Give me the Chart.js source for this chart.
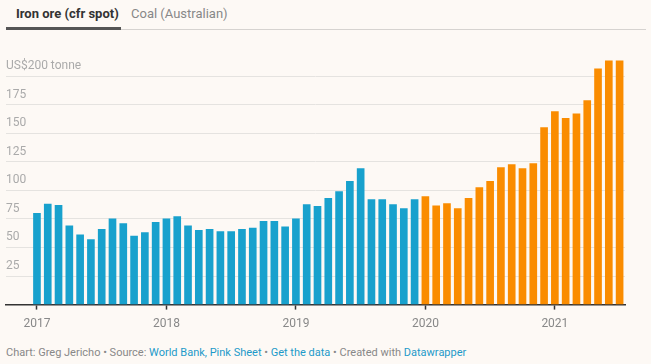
<!DOCTYPE html>
<html>
<head>
<meta charset="utf-8">
<script src="https://cdn.jsdelivr.net/npm/chart.js@4"></script>
<style>
  body { margin: 0; background: #fdf9f5; font-family: Roboto, sans-serif; width: 651px; height: 364px; overflow: hidden; position: relative; }
  .tabs { position: absolute; left: 0; top: 0; width: 651px; height: 31px; }
  .tab1 { position: absolute; left: 16px; top: 6px; font-size: 13px; font-weight: 700; color: #333; }
  .tab2 { position: absolute; left: 131px; top: 6px; font-size: 13px; color: #888; }
  .line { position: absolute; left: 6px; top: 29px; width: 640px; height: 1px; background: #d6d3d0; }
  .active { position: absolute; left: 6px; top: 27px; width: 115px; height: 3px; background: #555; }
  #wrap { position: absolute; left: 0; top: 40px; width: 651px; height: 298px; }
  .foot { position: absolute; left: 6px; top: 346px; font-size: 11px; color: #888; white-space: nowrap; }
  .foot a { color: #1d9ac9; text-decoration: none; }
</style>
</head>
<body>
<div class="tabs">
  <div class="tab1">Iron ore (cfr spot)</div>
  <div class="tab2">Coal (Australian)</div>
  <div class="line"></div>
  <div class="active"></div>
</div>
<div id="wrap"><canvas id="myChart"></canvas></div>
<div class="foot">Chart: Greg Jericho • Source: <a>World Bank, Pink Sheet</a> • <a>Get the data</a> • Created with <a>Datawrapper</a></div>
<script>
// monthly prices, Jan 2017 - Dec 2019 (blue) and Jan 2020 - Jul 2021 (orange)
var prices2017to2019 = [
  80, 88, 87, 69, 61, 57, 66, 75, 71, 60, 63, 72,
  75, 77, 69, 65, 66, 64, 64, 66, 67, 73, 73, 68,
  75, 87.5, 86, 93, 99, 108, 119, 92, 92, 87.5, 84, 92
];
var prices2020to2021 = [
  94.5, 86.5, 88.5, 84, 93, 102.5, 108, 120, 122.5, 119, 123.5, 155,
  169, 163, 167, 178.5, 206.5, 213.5, 213.5
];
var yearLabels = ["2017", "2018", "2019", "2020", "2021"];
var yTicks = [0, 25, 50, 75, 100, 125, 150, 175, 200];

var blueData = prices2017to2019.map((v, i) => ({ x: i, y: v }));
var orangeData = prices2020to2021.map((v, i) => ({ x: i + prices2017to2019.length, y: v }));

new Chart("myChart", {
  type: "bar",
  data: {
    datasets: [
      { data: blueData, backgroundColor: "#18a1cd", barThickness: 7, grouped: false },
      { data: orangeData, backgroundColor: "#fa8c00", barThickness: 7, grouped: false },
    ],
  },
  options: {
    responsive: true,
    maintainAspectRatio: false,
    animation: false,
    layout: { padding: { left: 6, right: 26, top: 19, bottom: 0 } },
    plugins: { legend: { display: false }, tooltip: { enabled: false } },
    scales: {
      x: {
        type: "linear",
        offset: false,
        min: -2.87,
        max: 54.5,
        afterBuildTicks: (axis) => {
          axis.ticks = yearLabels.map((y, i) => ({ value: i * 12 }));
        },
        ticks: {
          color: "#888",
          font: { family: "Roboto", size: 12 },
          padding: 7,
          autoSkip: false,
          maxRotation: 0,
          callback: (v) => yearLabels[v / 12],
        },
        grid: { display: true, offset: false, drawOnChartArea: false, drawTicks: true, tickLength: 5, color: "#333", tickWidth: 1.5 },
        border: { display: true, color: "#333", width: 1.5 },
      },
      y: {
        min: 0,
        max: 215,
        afterBuildTicks: (axis) => {
          axis.ticks = yTicks.map((v) => ({ value: v }));
        },
        ticks: {
          mirror: true,
          padding: 0,
          labelOffset: -10,
          color: "#aaa",
          font: { family: "Roboto", size: 12 },
          callback: (v) => (v === 0 ? "" : v === 200 ? "US$200 tonne" : v),
        },
        grid: { color: "#e5e3e0", lineWidth: 1, drawTicks: false },
        border: { display: false },
      },
    },
  },
});
</script>
</body>
</html>
